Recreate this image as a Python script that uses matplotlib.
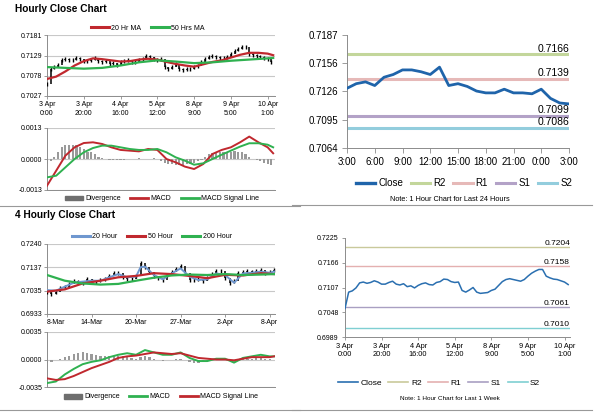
import numpy as np
import matplotlib.pyplot as plt
from matplotlib.lines import Line2D
from matplotlib.patches import Patch

plt.rcParams['font.family'] = ['Liberation Sans', 'DejaVu Sans']

# ---- hourly data, 3 Apr 0:00 .. 10 Apr, read every 2nd bar
hourly_bar = np.arange(0, 123, 2)
hourly_close = [0.7057, 0.7096, 0.7099, 0.7106, 0.7118, 0.7120, 0.7117, 0.7119, 0.7123, 0.7120,
                0.7115, 0.7115, 0.7119, 0.7122, 0.7115, 0.7113, 0.7116, 0.7109, 0.7111, 0.7106,
                0.7112, 0.7116, 0.7118, 0.7114, 0.7113, 0.7119, 0.7121, 0.7127, 0.7126, 0.7121,
                0.7119, 0.7120, 0.7100, 0.7096, 0.7101, 0.7107, 0.7096, 0.7093, 0.7094, 0.7095,
                0.7100, 0.7103, 0.7112, 0.7121, 0.7126, 0.7128, 0.7126, 0.7124, 0.7122, 0.7126,
                0.7134, 0.7141, 0.7146, 0.7150, 0.7150, 0.7134, 0.7130, 0.7127, 0.7126, 0.7123,
                0.7120, 0.7114]
ma20_bar = [0, 5, 10, 15, 20, 25, 30, 35, 40, 45, 50, 55, 60, 65, 70, 75, 80, 85, 90, 95,
            100, 105, 110, 115, 120, 123]
ma20_hr = [0.7070, 0.7076, 0.7089, 0.7104, 0.7115, 0.7122, 0.7120, 0.7117, 0.7114, 0.7115,
           0.7119, 0.7121, 0.7119, 0.7113, 0.7108, 0.7104, 0.7101, 0.7107, 0.7113, 0.7117,
           0.7124, 0.7131, 0.7136, 0.7136, 0.7134, 0.7130]
ma50_bar = [0, 10, 20, 30, 40, 50, 60, 70, 80, 90, 100, 110, 120, 123]
ma50_hr = [0.7100, 0.7098, 0.7096, 0.7098, 0.7104, 0.7112, 0.7117, 0.7114, 0.7110, 0.7112,
           0.7116, 0.7119, 0.7122, 0.7123]
macd_hr = [-0.00112, -0.00049, 0.00014, 0.00049, 0.00067, 0.00070, 0.00063, 0.00049, 0.00038, 0.00035,
           0.00032, 0.00042, 0.00038, 0.00000, -0.00014, -0.00032, -0.00042, -0.00021, 0.00021, 0.00038,
           0.00049, 0.00070, 0.00094, 0.00070, 0.00049, 0.00024]
signal_hr = [-0.00077, -0.00070, -0.00035, 0.00000, 0.00028, 0.00046, 0.00056, 0.00056, 0.00049, 0.00042,
             0.00038, 0.00038, 0.00042, 0.00028, 0.00007, -0.00007, -0.00024, -0.00018, 0.00000, 0.00018,
             0.00035, 0.00052, 0.00066, 0.00066, 0.00060, 0.00049]
div_hr = [-0.0002, -0.0001, 0.0001, 0.0003, 0.0005, 0.0006, 0.0006, 0.0006, 0.0006, 0.0005,
          0.0004, 0.0003, 0.0003, 0.0002, 0.0001, 0.00005, 0.0, -0.00003, -0.00005, -0.00005,
          -0.00004, -0.00003, -0.00002, 0.0, 0.00002, 0.00003, 0.00002, 0.0, 0.00002, 0.00003,
          0.0, -0.0001, -0.00015, -0.0002, -0.00022, -0.00024, -0.00025, -0.00024, -0.00022, -0.0002,
          -0.00015, -0.0001, -0.00003, 0.0001, 0.0002, 0.00025, 0.0003, 0.0003, 0.0003, 0.0003,
          0.0003, 0.00032, 0.0003, 0.00028, 0.0002, 0.0001, 0.0, -0.00005, -0.0001, -0.00015,
          -0.0002, -0.00025]
hourly_ticks = ['3 Apr\n0:00', '3 Apr\n20:00', '4 Apr\n16:00', '5 Apr\n12:00',
                '8 Apr\n9:00', '9 Apr\n5:00', '10 Apr\n1:00']
hr_price_y = ['0.7027', '0.7078', '0.7129', '0.7181']
hr_macd_y = ['-0.0013', '0.0000', '0.0013']

# ---- last 24 hours
day_close = [0.7129, 0.7134, 0.7136, 0.7132, 0.7141, 0.7144, 0.7149, 0.7149, 0.7147, 0.7144,
             0.7152, 0.7132, 0.7134, 0.7131, 0.7126, 0.7124, 0.7124, 0.7128, 0.7124, 0.7124,
             0.7123, 0.7128, 0.7118, 0.7113, 0.7112]
day_ticks = ['3:00', '6:00', '9:00', '12:00', '15:00', '18:00', '21:00', '0:00', '3:00']
day_y = ['0.7064', '0.7095', '0.7126', '0.7156', '0.7187']
level_names = ['R2', 'R1', 'S1', 'S2']
day_levels = [0.7166, 0.7139, 0.7099, 0.7086]
week_levels = [0.7204, 0.7158, 0.7061, 0.7010]
week_y = ['0.6989', '0.7048', '0.7107', '0.7166', '0.7225']

# ---- 4 hourly data, 8 Mar .. 9 Apr, read every 3rd bar
h4_bar = np.arange(0, 154, 3)
h4_close = [0.7031, 0.7019, 0.7031, 0.7046, 0.7051, 0.7063, 0.7079, 0.7073, 0.7070, 0.7085,
            0.7079, 0.7073, 0.7081, 0.7085, 0.7100, 0.7113, 0.7111, 0.7097, 0.7088, 0.7085,
            0.7100, 0.7155, 0.7138, 0.7119, 0.7100, 0.7089, 0.7082, 0.7104, 0.7119, 0.7129,
            0.7144, 0.7114, 0.7082, 0.7082, 0.7088, 0.7076, 0.7089, 0.7108, 0.7123, 0.7123,
            0.7089, 0.7070, 0.7079, 0.7114, 0.7119, 0.7122, 0.7116, 0.7123, 0.7126, 0.7114,
            0.7116, 0.7126]
ma20_4h_bar = [0, 6, 12, 18, 24, 30, 36, 42, 48, 54, 60, 63, 66, 72, 78, 84, 90, 96, 102, 108,
               114, 120, 126, 132, 138, 144, 150, 153]
ma20_4h = [0.7038, 0.7035, 0.7053, 0.7070, 0.7075, 0.7079, 0.7079, 0.7094, 0.7108, 0.7094,
           0.7097, 0.7138, 0.7141, 0.7104, 0.7085, 0.7111, 0.7133, 0.7097, 0.7082, 0.7085,
           0.7111, 0.7104, 0.7070, 0.7111, 0.7114, 0.7119, 0.7114, 0.7119]
ma_long_bar = [0, 12, 24, 36, 48, 60, 72, 84, 96, 108, 120, 132, 144, 153]
ma50_4h = [0.7031, 0.7041, 0.7067, 0.7079, 0.7094, 0.7100, 0.7112, 0.7108, 0.7100, 0.7090,
           0.7105, 0.7102, 0.7112, 0.7108]
ma200_4h = [0.7104, 0.7079, 0.7067, 0.7062, 0.7065, 0.7079, 0.7092, 0.7102, 0.7106, 0.7104,
            0.7108, 0.7104, 0.7106, 0.7108]
macd_4h_bar = [0, 6, 12, 18, 24, 30, 36, 42, 48, 54, 60, 66, 72, 78, 84, 90, 96, 102, 108,
               114, 120, 126, 132, 138, 144, 150, 153]
macd_4h = [-0.0030, -0.0028, -0.0019, -0.0012, -0.0006, -0.0003, -0.0001, 0.0003, 0.0006, 0.0008,
           0.0006, 0.0012, 0.0009, 0.0006, 0.0006, 0.0009, 0.0002, -0.0002, -0.0002, 0.0001,
           0.0001, -0.0004, 0.0002, 0.0004, 0.0006, 0.0004, 0.0004]
signal_4h = [-0.0024, -0.0026, -0.0025, -0.0021, -0.0016, -0.0011, -0.0007, -0.0003, 0.0002, 0.0004,
             0.0005, 0.0007, 0.0009, 0.0008, 0.0007, 0.0008, 0.0005, 0.0002, 0.0001, 0.0000,
             0.0000, -0.0001, 0.0001, 0.0003, 0.0003, 0.0003, 0.0004]
div_4h = [-0.0004, -0.0003, -0.0001, 0.0001, 0.0003, 0.0005, 0.0007, 0.0008, 0.0009, 0.0008,
          0.0007, 0.0006, 0.0005, 0.0005, 0.0004, 0.0004, 0.0004, 0.0004, 0.0003, 0.0002,
          0.0001, 0.0003, 0.0005, 0.0003, 0.0001, -0.0001, -0.0002, -0.0001, 0.0, 0.0001,
          0.0001, -0.0001, -0.0003, -0.0004, -0.0004, -0.0003, -0.0002, 0.0, 0.0001, 0.0001,
          0.0, -0.0002, -0.0003, 0.0, 0.0001, 0.0001, 0.0001, 0.0002, 0.0002, 0.0001,
          0.0001, 0.0]
h4_ticks = ['8-Mar', '14-Mar', '20-Mar', '27-Mar', '2-Apr', '8-Apr']
h4_price_y = ['0.6933', '0.7035', '0.7137', '0.7240']
h4_macd_y = ['-0.0035', '0.0000', '0.0035']

RED = '#c0282e'
GREEN = '#2fb150'
BLUE_L = '#6f97cf'
GRAY_AX = '#8c8c8c'
LVL_DAY = ['#c3d69b', '#e6b9b8', '#b3a2c7', '#93cddd']
LVL_WEEK = ['#c9c99b', '#e4b0b0', '#a99fc2', '#7fcfd2']

W, H = 600, 413
fig = plt.figure(figsize=(6, 4.13), dpi=100)


def px_axes(x0, y0, x1, y1):
    return fig.add_axes([x0 / W, 1 - y1 / H, (x1 - x0) / W, (y1 - y0) / H])


def style(ax, labels, size=5, grid=True):
    for s in ['top', 'right']:
        ax.spines[s].set_visible(False)
    for s in ['left', 'bottom']:
        ax.spines[s].set_color(GRAY_AX)
        ax.spines[s].set_linewidth(0.7)
    vals = [float(v) for v in labels]
    ax.set_ylim(min(vals), max(vals))
    ax.set_yticks(vals, labels)
    ax.tick_params(length=2, width=0.6, color=GRAY_AX, labelsize=size, pad=1.5)
    if grid:
        ax.yaxis.grid(True, color='#c8c8c8', lw=0.8)
        ax.set_axisbelow(True)


def candles(ax, xs, closes):
    c = np.array(closes)
    ax.vlines(xs[1:], c[:-1], c[1:], color='black', lw=1.1, zorder=3)
    ax.plot(xs, c, ls='none', marker='|', ms=2.5, mew=1.0, color='black', zorder=3)


def legend(handles, labels, cx, cy, size=5, colsp=1.4, **kw):
    fig.legend(handles, labels, loc='center', bbox_to_anchor=(cx / W, 1 - cy / H),
               ncol=len(labels), frameon=False, fontsize=size, handletextpad=0.3,
               columnspacing=colsp, borderaxespad=0, **kw)


# titles
fig.text(15 / W, 1 - 9 / H, 'Hourly Close Chart', fontsize=7.3, fontweight='bold', va='center')
fig.text(15 / W, 1 - 215 / H, '4 Hourly Close Chart', fontsize=7.3, fontweight='bold', va='center')

# ---- hourly price
ax1 = px_axes(47, 35, 275, 96)
candles(ax1, hourly_bar, hourly_close)
ax1.plot(ma20_bar, ma20_hr, color=RED, lw=1.6, zorder=4)
ax1.plot(ma50_bar, ma50_hr, color=GREEN, lw=1.6, zorder=4)
style(ax1, hr_price_y)
ax1.set_xlim(0, 124)
ax1.set_xticks(np.arange(0, 121, 20), hourly_ticks, linespacing=1.5)
legend([Line2D([], [], color=RED, lw=2.2), Line2D([], [], color=GREEN, lw=2.2)],
       ['20 Hr MA', '50 Hrs MA'], 148, 28, handlelength=2.6)

# ---- hourly MACD
ax2 = px_axes(47, 128, 275, 190)
ax2.bar(hourly_bar, div_hr, width=1.2, color='#9a9a9a', zorder=2)
ax2.plot(ma20_bar, macd_hr, color=RED, lw=1.4, zorder=4)
ax2.plot(ma20_bar, signal_hr, color=GREEN, lw=1.4, zorder=4)
style(ax2, hr_macd_y)
ax2.set_xlim(0, 124)
ax2.set_xticks([])
legend([Patch(color='#6e6e6e'), Line2D([], [], color=RED, lw=2), Line2D([], [], color=GREEN, lw=2)],
       ['Divergence', 'MACD', 'MACD Signal Line'], 162, 199, handlelength=2.6)

# ---- last 24 hours
ax3 = px_axes(347, 35, 569, 148)
ax3.plot(np.arange(len(day_close)), day_close, color='#1f64aa', lw=2.0, zorder=4)
for lvl, col in zip(day_levels, LVL_DAY):
    ax3.axhline(lvl, color=col, lw=2.2, zorder=2)
    ax3.annotate(f'{lvl:.4f}', xy=(1, lvl), xycoords=('axes fraction', 'data'),
                 xytext=(0, 0.5), textcoords='offset points', ha='right', va='bottom', fontsize=7.5)
style(ax3, day_y, size=7, grid=False)
ax3.set_xlim(0, 24)
ax3.set_xticks(np.arange(0, 25, 3), day_ticks)
ax3.tick_params(length=3.5, pad=3)
legend([Line2D([], [], color='#1f64aa', lw=2.4)] + [Line2D([], [], color=c, lw=2.2) for c in LVL_DAY],
       ['Close'] + level_names, 464, 183, size=7, colsp=0.8, handlelength=2.0)
fig.text(450 / W, 1 - 200 / H, 'Note: 1 Hour Chart for Last 24 Hours', fontsize=5.3, ha='center', va='center')

# ---- 4 hourly price
ax4 = px_axes(47, 244, 275, 314)
candles(ax4, h4_bar, h4_close)
ax4.plot(ma20_4h_bar, ma20_4h, color=BLUE_L, lw=1.4, zorder=4)
ax4.plot(ma_long_bar, ma50_4h, color=RED, lw=1.6, zorder=4)
ax4.plot(ma_long_bar, ma200_4h, color=GREEN, lw=1.6, zorder=4)
style(ax4, h4_price_y)
ax4.set_xlim(0, 153.6)
ax4.set_xticks(np.arange(0, 151, 30), h4_ticks)
ax4.get_xticklabels()[0].set_horizontalalignment('left')
legend([Line2D([], [], color=BLUE_L, lw=2.2), Line2D([], [], color=RED, lw=2.2),
        Line2D([], [], color=GREEN, lw=2.2)],
       ['20 Hour', '50 Hour', '200 Hour'], 152, 237, handlelength=2.6)

# ---- 4 hourly MACD (green = MACD, red = signal)
ax5 = px_axes(47, 332, 275, 387)
ax5.bar(h4_bar, div_4h, width=1.5, color='#9a9a9a', zorder=2)
ax5.plot(macd_4h_bar, macd_4h, color=GREEN, lw=1.4, zorder=4)
ax5.plot(macd_4h_bar, signal_4h, color=RED, lw=1.4, zorder=4)
style(ax5, h4_macd_y)
ax5.set_xlim(0, 153.6)
ax5.set_xticks([])
legend([Patch(color='#6e6e6e'), Line2D([], [], color=GREEN, lw=2), Line2D([], [], color=RED, lw=2)],
       ['Divergence', 'MACD', 'MACD Signal Line'], 161, 397, handlelength=2.6)

# ---- last week
ax6 = px_axes(345, 238, 570, 337)
ax6.plot(hourly_bar, hourly_close, color='#2a6fb0', lw=1.1, zorder=4)
for lvl, col in zip(week_levels, LVL_WEEK):
    ax6.axhline(lvl, color=col, lw=1.0, zorder=2)
    ax6.annotate(f'{lvl:.4f}', xy=(1, lvl), xycoords=('axes fraction', 'data'),
                 xytext=(0, 0), textcoords='offset points', ha='right', va='bottom', fontsize=6)
style(ax6, week_y, size=5, grid=False)
ax6.set_xlim(0, 123)
ax6.set_xticks(np.arange(0, 121, 20), hourly_ticks, fontsize=5.3)
ax6.tick_params(length=2.5, pad=2)
legend([Line2D([], [], color='#2a6fb0', lw=1.2)] + [Line2D([], [], color=c, lw=1.2) for c in LVL_WEEK],
       ['Close'] + level_names, 439, 383, size=6, colsp=0.8, handlelength=2.4)
fig.text(450 / W, 1 - 398 / H, 'Note: 1 Hour Chart for Last 1 Week', fontsize=4.6, ha='center', va='center')

# separators
for (x0, x1, y) in [(0, 300, 206), (292, 592, 205), (0, 300, 410), (292, 592, 410)]:
    fig.add_artist(Line2D([x0 / W, x1 / W], [1 - y / H, 1 - y / H], color='#999999', lw=0.8))

fig.savefig('out.png', dpi=100)
